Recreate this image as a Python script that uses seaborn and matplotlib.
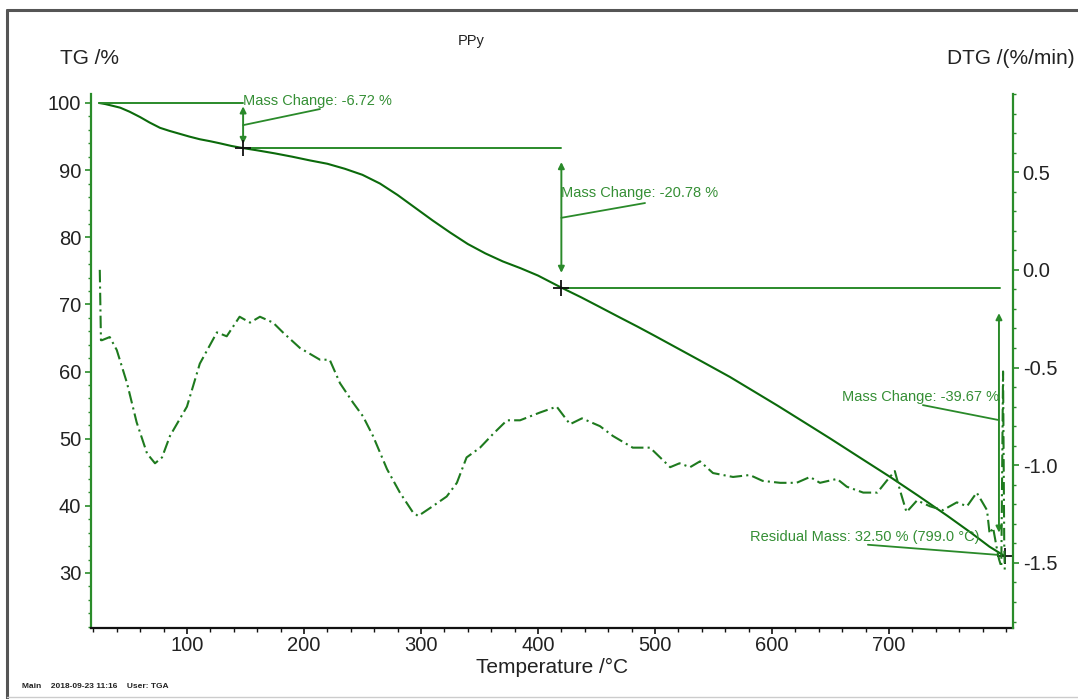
import matplotlib
matplotlib.use("Agg")
import matplotlib.pyplot as plt
import numpy as np
import pandas as pd
import seaborn as sns

# ---------------- data ----------------
tg_temp = [25, 30, 36, 43, 51, 60, 68, 77, 85, 94, 102, 111, 120, 128, 138, 148,
           160, 175, 190, 205, 220, 235, 250, 265, 280, 295, 310, 325, 340, 355,
           370, 385, 400, 420, 437, 453, 470, 485, 500, 520, 540, 564, 585, 605,
           628, 650, 675, 701, 725, 750, 770, 786, 799]
tg_mass = [100.0, 99.85, 99.6, 99.3, 98.7, 97.9, 97.1, 96.3, 95.85, 95.4, 95.0, 94.6,
           94.3, 94.0, 93.6, 93.28, 92.95, 92.5, 92.0, 91.45, 90.95, 90.2, 89.3, 88.0,
           86.3, 84.4, 82.5, 80.7, 79.0, 77.6, 76.4, 75.4, 74.3, 72.5, 71.05, 69.6,
           68.05, 66.7, 65.3, 63.4, 61.5, 59.2, 57.0, 54.9, 52.4, 50.0, 47.2, 44.3,
           41.5, 38.5, 36.0, 33.9, 32.5]

dtg_temp = [25.5, 26.5, 27.4, 34, 40, 48.8, 57, 65.9, 72.7, 78.7, 85.5, 100, 111,
            125.6, 134, 145, 153.9, 162.4, 173.6, 182, 196.6, 213.7, 222, 230.8, 242,
            250.5, 259, 271, 282, 293, 297.6, 310, 322, 330.7, 339, 350.5, 361.6,
            373.5, 384.7, 401.8, 416, 427.4, 437.6, 453, 464, 481, 495.8, 513, 521,
            530, 538.5, 549.6, 566.7, 581, 592, 607, 621, 632.5, 641, 655.6, 664,
            678, 690, 698, 705, 709.5, 715, 724, 735, 746, 758, 766.7, 775, 783.8,
            786, 789, 792, 794, 796, 797.5, 798.5, 799]
dtg_rate = [0.0, -0.36, -0.36, -0.344, -0.41, -0.58, -0.78, -0.94, -0.99, -0.96, -0.85,
            -0.70, -0.48, -0.32, -0.34, -0.24, -0.27, -0.24, -0.27, -0.32, -0.40, -0.46,
            -0.46, -0.58, -0.68, -0.75, -0.85, -1.02, -1.14, -1.24, -1.26, -1.21, -1.16,
            -1.09, -0.96, -0.91, -0.84, -0.77, -0.77, -0.73, -0.70, -0.79, -0.76, -0.80,
            -0.85, -0.91, -0.91, -1.01, -0.99, -1.01, -0.98, -1.04, -1.06, -1.05, -1.08,
            -1.09, -1.09, -1.06, -1.09, -1.07, -1.11, -1.14, -1.14, -1.08, -1.03, -1.13,
            -1.24, -1.18, -1.21, -1.23, -1.19, -1.21, -1.14, -1.23, -1.35, -1.32, -1.42,
            -1.48, -1.52, -0.52, -1.40, -1.55]

step_temp = [25, 148, 420, 795]          # step boundaries (°C)
step_mass = [100.0, 93.28, 72.50, 32.83]  # TG at boundaries (%)
step_labels = ["Mass Change: -6.72 %", "Mass Change: -20.78 %", "Mass Change: -39.67 %"]
residual_label = "Residual Mass: 32.50 % (799.0 °C)"
residual_point = (799.0, 32.50)

x_ticks = [100, 200, 300, 400, 500, 600, 700]
tg_ticks = [30, 40, 50, 60, 70, 80, 90, 100]
dtg_ticks = [-1.5, -1.0, -0.5, 0.0, 0.5]
dtg_ticklabels = ["-1.5", "-1.0", "-0.5", "0.0", "0.5"]

# ---------------- style ----------------
sns.set_theme(style="white")
plt.rcParams["font.family"] = ["Liberation Sans", "DejaVu Sans"]

TG_COL = "#0b6a0b"
DTG_COL = "#1e7a1e"
AX_GREEN = "#2a8c2a"
ANN_COL = "#2a8a2a"
TXT_COL = "#358f35"
LBL_COL = "#222222"

fig = plt.figure(figsize=(10.78, 6.99), dpi=100)
ax = fig.add_axes([91 / 1078, 1 - 628 / 699, (1013 - 91) / 1078, (628 - 94) / 699])
ax2 = ax.twinx()

df_tg = pd.DataFrame({"T": tg_temp, "TG": tg_mass})
df_dtg = pd.DataFrame({"T": dtg_temp, "DTG": dtg_rate})

sns.lineplot(data=df_tg, x="T", y="TG", ax=ax, color=TG_COL, linewidth=1.5,
             estimator=None, sort=False)
sns.lineplot(data=df_dtg, x="T", y="DTG", ax=ax2, color=DTG_COL, linewidth=1.5,
             estimator=None, sort=False)
ax2.lines[-1].set_linestyle((0, (6, 2, 1, 2)))

ax.set_xlim(18, 806)
ax.set_ylim(21.8, 101.34)
ax2.set_ylim(-1.833, 0.9)

# spines
for a in (ax, ax2):
    a.spines["top"].set_visible(False)
ax.spines["right"].set_visible(False)
ax2.spines["left"].set_visible(False)
ax2.spines["bottom"].set_visible(False)
ax.spines["left"].set_color(AX_GREEN)
ax.spines["left"].set_linewidth(1.6)
ax.spines["bottom"].set_color("#111111")
ax.spines["bottom"].set_linewidth(1.6)
ax2.spines["right"].set_color(AX_GREEN)
ax2.spines["right"].set_linewidth(1.6)

ax.set_xticks(x_ticks)
ax.set_xticks(np.arange(20, 806, 20), minor=True)
ax.set_yticks(tg_ticks)
ax.set_yticks(np.arange(22, 101.4, 2), minor=True)
ax2.set_yticks(dtg_ticks)
ax2.set_yticklabels(dtg_ticklabels)
ax2.set_yticks(np.arange(-1.8, 0.95, 0.1), minor=True)

ax.tick_params(axis="x", which="both", direction="out", colors="#111111",
               labelcolor=LBL_COL, labelsize=14.5, pad=2)
ax.tick_params(axis="x", which="major", length=4, width=1.2, bottom=True)
ax.tick_params(axis="x", which="minor", length=3, width=1.0, bottom=True)
ax.tick_params(axis="y", which="both", direction="out", colors=AX_GREEN,
               labelcolor=LBL_COL, labelsize=14.5, pad=3, left=True)
ax.tick_params(axis="y", which="major", length=4, width=1.2)
ax.tick_params(axis="y", which="minor", length=2.5, width=1.0)
ax2.tick_params(axis="y", which="both", direction="out", colors=AX_GREEN,
                labelcolor=LBL_COL, labelsize=14.5, pad=3, right=True)
ax2.tick_params(axis="y", which="major", length=4, width=1.2)
ax2.tick_params(axis="y", which="minor", length=2.5, width=1.0)

ax.set_xlabel("")
ax.set_ylabel("")
ax2.set_ylabel("")
ax.grid(False)
ax2.grid(False)

# ---------------- annotations (TG axis) ----------------
for i in range(3):
    ax.plot([step_temp[i], step_temp[i + 1]], [step_mass[i], step_mass[i]],
            color=ANN_COL, linewidth=1.4, zorder=3)

arrow_kw = dict(arrowstyle="<|-|>", color=ANN_COL, lw=1.4,
                mutation_scale=9, shrinkA=0, shrinkB=0)
# step 1
ax.annotate("", xy=(step_temp[1], 93.9), xytext=(step_temp[1], 99.5), arrowprops=arrow_kw)
ax.plot([step_temp[1], 213.7], [96.7, 99.1], color=ANN_COL, linewidth=1.3)
ax.text(step_temp[1], 100.3, step_labels[0], color=TXT_COL, fontsize=10.5,
        ha="left", va="center")
# step 2
ax.annotate("", xy=(step_temp[2], 74.7), xytext=(step_temp[2], 91.2), arrowprops=arrow_kw)
ax.plot([step_temp[2], 491.5], [82.9, 85.1], color=ANN_COL, linewidth=1.3)
ax.text(step_temp[2], 86.6, step_labels[1], color=TXT_COL, fontsize=10.5,
        ha="left", va="center")
# step 3
ax.annotate("", xy=(794, 36.0), xytext=(794, 68.7), arrowprops=arrow_kw)
ax.plot([729, 793], [55.0, 52.8], color=ANN_COL, linewidth=1.3)
ax.text(660, 56.2, step_labels[2], color=TXT_COL, fontsize=10.5,
        ha="left", va="center")
# residual
ax.plot([682, 792.4], [34.2, 32.7], color=ANN_COL, linewidth=1.3)
ax.text(581, 35.4, residual_label, color=TXT_COL, fontsize=10.5,
        ha="left", va="center")

# cross markers
for (tx, ty) in [(step_temp[1], step_mass[1]), (step_temp[2], step_mass[2]), residual_point]:
    ax.plot([tx], [ty], marker="+", markersize=11, markeredgewidth=1.3,
            color="#111111", linestyle="none", zorder=5)

# ---------------- texts ----------------
fig.text(60 / 1078, 1 - 58 / 699, "TG /%", fontsize=15, color=LBL_COL,
         ha="left", va="center")
fig.text(1075 / 1078, 1 - 58 / 699, "DTG /(%/min)", fontsize=15, color=LBL_COL,
         ha="right", va="center")
fig.text(471 / 1078, 1 - 41 / 699, "PPy", fontsize=10.5, color=LBL_COL,
         ha="center", va="center")
fig.text(552 / 1078, 1 - 667 / 699, "Temperature /°C", fontsize=15, color=LBL_COL,
         ha="center", va="center")
fig.text(22 / 1078, 1 - 686 / 699, "Main    2018-09-23 11:16    User: TGA",
         fontsize=6, fontweight="bold", color="#222222", ha="left", va="center")

# outer frame
fig.add_artist(plt.Line2D([7 / 1078, 7 / 1078], [0.0, 1 - 10 / 699],
                          transform=fig.transFigure, color="#555555", linewidth=2.2))
fig.add_artist(plt.Line2D([7 / 1078, 1.0], [1 - 10 / 699, 1 - 10 / 699],
                          transform=fig.transFigure, color="#555555", linewidth=2.2))
fig.add_artist(plt.Line2D([7 / 1078, 1.0], [1 - 697 / 699, 1 - 697 / 699],
                          transform=fig.transFigure, color="#cccccc", linewidth=1.0))

fig.savefig("out.png", dpi=100)
